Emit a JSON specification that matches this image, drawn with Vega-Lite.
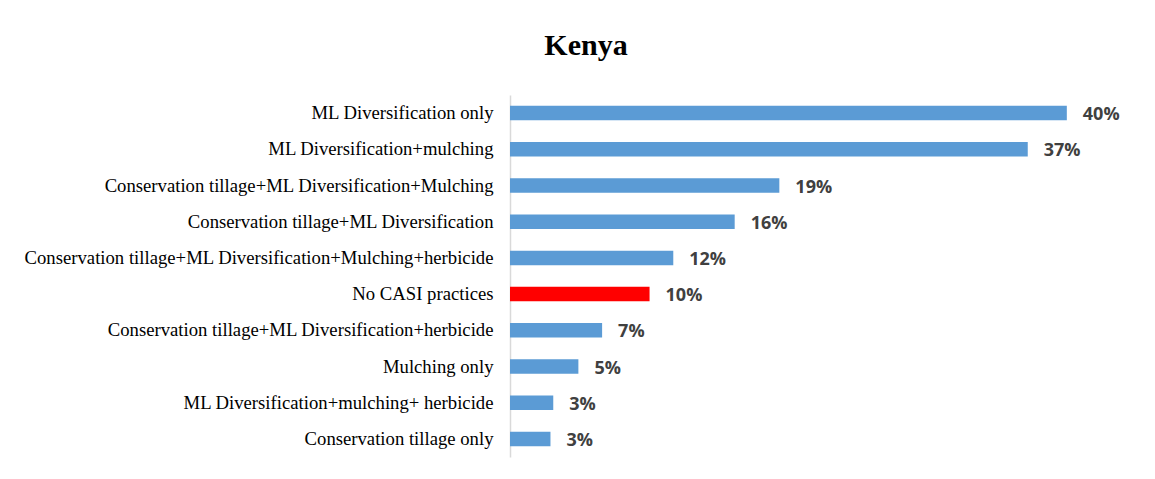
{
  "$schema": "https://vega.github.io/schema/vega-lite/v6.json",
  "autosize": "none",
  "width": 628,
  "height": 362,
  "padding": {"left": 510, "top": 95, "right": 17, "bottom": 22},
  "background": "white",
  "title": {
    "text": "Kenya",
    "font": "Liberation Serif",
    "fontSize": 30,
    "fontWeight": "bold",
    "color": "#000000",
    "anchor": "middle",
    "dx": -238,
    "offset": 34
  },
  "data": {
    "values": [
      {"practice": "ML Diversification only", "share": 0.399},
      {"practice": "ML Diversification+mulching", "share": 0.371},
      {"practice": "Conservation tillage+ML Diversification+Mulching", "share": 0.193},
      {"practice": "Conservation tillage+ML Diversification", "share": 0.161},
      {"practice": "Conservation tillage+ML Diversification+Mulching+herbicide", "share": 0.117},
      {"practice": "No CASI practices", "share": 0.100},
      {"practice": "Conservation tillage+ML Diversification+herbicide", "share": 0.066},
      {"practice": "Mulching only", "share": 0.049},
      {"practice": "ML Diversification+mulching+ herbicide", "share": 0.031},
      {"practice": "Conservation tillage only", "share": 0.029}
    ]
  },
  "config": {"view": {"stroke": null}},
  "encoding": {
    "y": {
      "field": "practice",
      "type": "nominal",
      "sort": null,
      "scale": {"paddingInner": 0.6, "paddingOuter": 0.3},
      "axis": {
        "title": null,
        "ticks": false,
        "labelFont": "Liberation Serif",
        "labelFontSize": 18.7,
        "labelColor": "#000000",
        "labelPadding": 17,
        "labelLimit": 0,
        "domainColor": "#d9d9d9",
        "domainWidth": 1.5
      }
    },
    "x": {
      "field": "share",
      "type": "quantitative",
      "scale": {"domain": [0, 0.45]},
      "axis": null
    }
  },
  "layer": [
    {
      "mark": {"type": "bar"},
      "encoding": {
        "color": {
          "condition": {"test": "datum.practice === 'No CASI practices'", "value": "#FF0000"},
          "value": "#5B9BD5"
        }
      }
    },
    {
      "mark": {
        "type": "text",
        "align": "left",
        "baseline": "middle",
        "dx": 16,
        "dy": 2,
        "font": "Open Sans",
        "fontWeight": "bold",
        "fontSize": 18,
        "color": "#404040"
      },
      "encoding": {
        "text": {"field": "share", "type": "quantitative", "format": ".0%"}
      }
    }
  ]
}
